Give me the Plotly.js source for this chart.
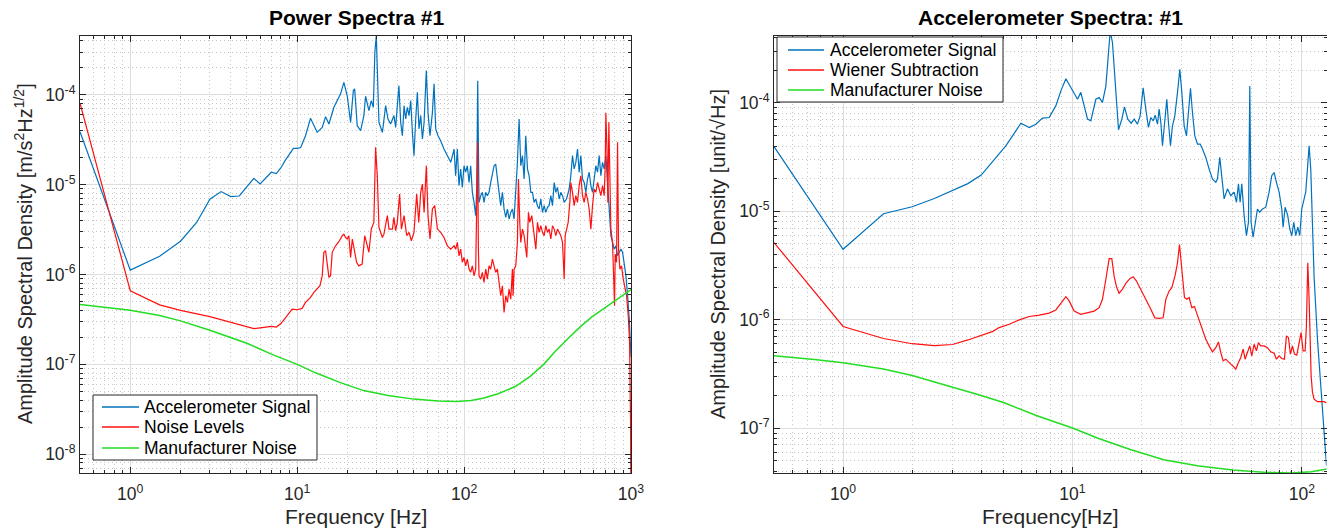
<!DOCTYPE html>
<html>
<head>
<meta charset="utf-8">
<script src="https://cdn.plot.ly/plotly-3.0.1.min.js"></script>
<style>
html,body{margin:0;padding:0;background:#fff;}
#chart{width:1327px;height:529px;}
</style>
</head>
<body>
<div id="chart"></div>
<script>
// ---------- Left panel: "Power Spectra #1" ----------
const psSignalFreq = [0.5,1,1.5,2,2.5,3,3.5,4,4.5,5,5.5,6,6.5,7,7.5,8,8.5,9,9.5,10,10.5,
  11.22,12.02,13.18,14.13,14.8,15.5,16.6,18.2,19.05,19.95,20.9,21.7,22.1,22.9,24.0,25.1,25.7,26.9,27.8,28.6,
  29.2,29.8,30.2,30.9,32.4,33.9,35.0,36.3,38.0,38.9,40.7,41.7,42.7,43.7,44.7,45.7,46.8,47.9,49.0,50.1,
  51.3,52.5,53.7,55.0,56.3,57.6,59.4,60.8,62.5,64.6,66.1,67.6,69.8,72.4,75.8,79.4,83.2,87.1,
  89.0,91.1,93.2,95.4,97.6,99.9,102.2,104.6,107.1,109.5,112.1,114.7,117.4,119.0,120.7,121.8,122.9,
  125.8,128.7,131.7,134.8,137.9,141.1,144.4,147.8,151.2,154.7,158.3,162.0,165.8,169.7,173.6,177.7,
  181.8,186.1,190.4,194.8,199.3,204.0,208.7,213.6,218.6,223.7,228.9,234.2,239.7,245.3,251.0,256.9,
  262.8,269.0,275.2,281.6,288.2,294.9,301.8,308.8,316.0,323.3,330.9,338.6,346.5,354.5,362.8,371.2,
  379.9,388.7,397.8,410.8,416.5,426.2,436.1,446.2,456.6,467.2,478.1,489.2,500.6,512.3,524.2,536.4,
  548.9,561.6,574.7,588.1,601.8,615.8,630.1,644.8,659.8,675.2,690.9,707.0,723.4,740.3,757.6,775.2,
  793.3,811.8,830.7,850.1,869.9,890.2,910.9,932.3,954.0,976.3,1000];
const psSignal = [3.9e-5,1.12e-6,1.6e-6,2.35e-6,3.8e-6,6.9e-6,8.4e-6,7.4e-6,7.5e-6,9.4e-6,1.18e-5,1.02e-5,1.2e-5,1.38e-5,1.33e-5,1.55e-5,1.88e-5,2.22e-5,2.54e-5,2.55e-5,2.6e-5,
  3.52e-5,5.5e-5,3.84e-5,4.36e-5,5.74e-5,4.75e-5,7.3e-5,1.03e-4,1.38e-4,9.8e-5,4.96e-5,1.12e-4,1.17e-4,4.55e-5,4.0e-5,5.9e-5,9.7e-5,6.7e-5,8.65e-5,7.3e-5,
  2.99e-4,4.6e-4,1.95e-4,4.96e-5,3.84e-5,7.6e-5,5.4e-5,4.75e-5,5.9e-5,4.36e-5,1.27e-4,4.96e-5,3.52e-5,7.6e-5,5.4e-5,7.3e-5,5.9e-5,8.65e-5,3.84e-5,2.11e-5,
  5.4e-5,1.07e-4,4.18e-5,5.9e-5,3.24e-5,4.96e-5,1.87e-4,6.4e-5,3.52e-5,6.4e-5,1.33e-4,4.18e-5,3.52e-5,3.1e-5,2.5e-5,2.11e-5,1.78e-5,2.5e-5,
  1.26e-5,2.5e-5,9.8e-6,1.5e-5,9.35e-6,1.63e-5,1.38e-5,1.63e-5,1.06e-5,1.63e-5,8.24e-6,6.37e-6,4.53e-6,8.97e-6,1.44e-4,2.97e-5,6.37e-6,
  7.56e-6,8.24e-6,6.37e-6,8.24e-6,7.56e-6,8.24e-6,1.06e-5,1.38e-5,1.63e-5,1.7e-5,1.26e-5,8.24e-6,5.85e-6,8.24e-6,5.37e-6,4.34e-6,
  5.37e-6,4.15e-6,4.93e-6,5.37e-6,4.15e-6,8.24e-6,1.78e-5,5.4e-5,1.63e-5,2.11e-5,1.16e-5,3.52e-5,1.5e-5,1.26e-5,8.24e-6,8.24e-6,
  6.37e-6,6.94e-6,5.85e-6,5.37e-6,6.94e-6,4.93e-6,5.85e-6,4.93e-6,5.6e-6,5.85e-6,7.56e-6,5.85e-6,1.06e-5,8.24e-6,9.35e-6,6.94e-6,
  8.24e-6,7.56e-6,6.37e-6,6.94e-6,7.56e-6,8.97e-6,1.26e-5,2.11e-5,1.5e-5,1.78e-5,2.5e-5,1.38e-5,2.11e-5,1.16e-5,1.06e-5,8.24e-6,
  1.16e-5,1.38e-5,9.8e-6,8.24e-6,1.16e-5,1.63e-5,1.38e-5,2.11e-5,1.26e-5,1.78e-5,1.5e-5,2.11e-5,1.06e-5,4.53e-6,2.71e-6,2.28e-6,
  1.92e-6,2.09e-6,1.62e-6,1.77e-6,1.92e-6,1.77e-6,1.37e-6,9.7e-7,5.81e-7,3.19e-7,1.2e-7];

const psNoiseFreq = [0.5,1,1.5,2,3,4,5,5.5,6,6.5,7,7.5,8,8.71,9.33,10.0,10.7,11.22,12.02,12.6,13.18,13.7,14.13,14.45,14.8,15.14,15.5,15.85,16.22,16.98,17.78,18.62,19.05,19.5,19.95,20.4,20.9,21.4,21.9,22.7,23.4,24.5,25.4,26.1,26.9,27.8,28.8,29.5,30.2,30.9,32.4,33.1,34.7,35.5,37.2,38.0,38.9,39.8,41.1,42.1,43.7,45.3,46.8,48.3,50.1,52.0,53.5,55.0,56.3,57.6,59.4,60.8,62.5,64.6,66.7,69.2,72.4,75.8,79.4,83.2,87.1,
  89.0,91.1,93.2,95.4,97.6,99.9,102.2,104.6,107.1,109.5,112.1,114.7,117.4,119.0,120.7,121.8,122.9,125.8,128.7,131.7,134.8,137.9,141.1,144.4,147.8,151.2,154.7,158.3,162.0,165.8,169.7,173.6,177.7,181.8,186.1,190.4,194.8,196.6,199.3,204.0,208.7,211.6,215.6,218.6,223.7,228.9,234.2,237.5,243.0,247.5,254.5,262.8,269.0,275.2,281.6,288.2,294.9,301.8,308.8,316.0,323.3,330.9,338.6,346.5,354.5,362.8,371.2,379.9,388.7,397.8,403.3,410.8,420.3,430.1,436.1,446.2,456.6,467.2,478.1,489.2,500.6,512.3,524.2,536.4,548.9,561.6,574.7,588.1,601.8,615.8,630.1,644.8,659.8,675.2,690.9,700.5,707.0,716.8,726.8,736.9,747.2,757.6,775.2,786.0,797.0,804.3,819.3,830.7,842.3,858.0,877.9,898.5,919.4,940.9,962.9,980.8,994.5,1000];
const psNoise = [8.1e-5,6.6e-7,4.6e-7,4.0e-7,3.4e-7,2.95e-7,2.6e-7,2.5e-7,2.55e-7,2.6e-7,2.65e-7,2.6e-7,2.85e-7,3.48e-7,4.13e-7,4.06e-7,4.2e-7,4.9e-7,5.57e-7,6.33e-7,6.9e-7,7.51e-7,9.7e-7,1.77e-6,1.84e-6,1.25e-6,9.3e-7,9.7e-7,1.77e-6,2.09e-6,2.32e-6,2.71e-6,2.82e-6,2.59e-6,2.49e-6,2.71e-6,1.55e-6,2.49e-6,2.01e-6,1.37e-6,1.25e-6,1.31e-6,2.71e-6,2.28e-6,1.77e-6,3.21e-6,3.81e-6,2.61e-5,1.26e-5,3.36e-6,2.59e-6,2.82e-6,4.53e-6,3.21e-6,3.21e-6,4.34e-6,3.08e-6,3.81e-6,7.89e-6,3.21e-6,4.53e-6,2.71e-6,2.95e-6,2.38e-6,2.95e-6,7.89e-6,3.81e-6,8.24e-6,1.02e-5,4.93e-6,1.63e-5,4.53e-6,2.49e-6,5.37e-6,5.85e-6,3.21e-6,2.95e-6,2.59e-6,2.09e-6,1.92e-6,2.09e-6,
  1.92e-6,2.28e-6,1.62e-6,1.92e-6,1.37e-6,1.55e-6,1.25e-6,1.49e-6,1.15e-6,1.06e-6,1.25e-6,9.7e-7,1.15e-6,4.53e-6,2.97e-5,1.92e-6,9.7e-7,8.9e-7,1.06e-6,8.18e-7,1.15e-6,8.9e-7,1.25e-6,1.15e-6,1.49e-6,1.25e-6,1.06e-6,1.15e-6,8.18e-7,5.81e-7,7.51e-7,3.79e-7,5.81e-7,4.9e-7,6.9e-7,5.33e-7,1.15e-6,5.81e-7,1.15e-6,1.25e-6,2.28e-6,1.16e-5,3.81e-6,2.28e-6,3.21e-6,2.71e-6,1.92e-6,1.55e-6,4.93e-6,3.81e-6,4.53e-6,2.95e-6,1.92e-6,3.81e-6,2.95e-6,3.5e-6,2.95e-6,2.71e-6,3.5e-6,2.95e-6,3.21e-6,2.49e-6,3.5e-6,3.21e-6,2.71e-6,3.21e-6,2.95e-6,2.71e-6,2.28e-6,8.9e-7,2.71e-6,3.21e-6,3.81e-6,6.37e-6,1.06e-5,8.24e-6,5.85e-6,7.56e-6,6.37e-6,9.8e-6,1.26e-5,7.56e-6,6.37e-6,8.24e-6,6.94e-6,5.37e-6,3.21e-6,5.85e-6,8.97e-6,8.24e-6,1.06e-5,8.97e-6,7.56e-6,9.8e-6,7.56e-6,1.63e-5,6.3e-5,2.72e-5,6.37e-6,4.96e-5,1.26e-5,3.21e-6,2.28e-6,9.7e-7,4.5e-7,1.69e-6,1.37e-6,2.97e-5,1.92e-6,1.15e-6,1.25e-6,8.9e-7,6.9e-7,5.81e-7,3.48e-7,1.75e-7,2e-8,1e-9];

// Manufacturer noise (same curve on both panels)
const mfrFreq  = [0.5,0.75,1,1.5,2,3,4,5,7,10,13,18,25,35,50,70,90,110,130,160,204,250,300,350,424,500,580,676,800,900,1000];
const mfrNoise = [4.65e-7,4.3e-7,4.0e-7,3.5e-7,3.05e-7,2.4e-7,2.0e-7,1.72e-7,1.3e-7,1.0e-7,8.0e-8,6.3e-8,5.1e-8,4.5e-8,4.1e-8,3.9e-8,3.86e-8,3.95e-8,4.2e-8,4.7e-8,5.7e-8,7.4e-8,1.0e-7,1.38e-7,1.98e-7,2.65e-7,3.35e-7,4.1e-7,5.1e-7,5.95e-7,6.8e-7];

// ---------- Right panel: "Accelerometer Spectra: #1" ----------
const asSignalFreq = [0.5,1,1.5,2,2.5,3,3.5,4,4.5,4.79,5.12,5.48,5.96,6.48,6.92,7.4,7.91,8.46,8.9,9.36,9.84,10.52,10.87,11.25,11.63,12.02,12.64,13.07,13.51,13.98,14.31,14.6,14.94,15.19,15.55,15.87,16.41,16.85,17.42,18.02,18.57,19.2,19.72,20.32,20.87,21.44,21.95,22.47,22.92,23.47,23.86,24.27,24.68,25.26,25.77,26.2,26.74,27.28,27.93,28.69,29.37,29.96,30.67,31.4,32.03,32.68,33.34,34.14,35.06,36.01,36.86,38.12,39.41,40.75,42.14,42.85,43.86,44.75,45.81,47.37,48.98,50.65,51.85,52.9,53.8,54.7,55.99,57.31,58.48,59.27,60.06,61.28,62.52,64,65.51,67.3,69.59,71.95,73.89,75.64,77.45,79.54,81.7,82.8,84.47,86.76,88.52,90.32,92.16,94.04,95.94,97.88,99.86,101.9,103.9,105.7,107.5,109.3,111.2,113,116.9,120.8,125,128];
const asSignal = [3.95e-5,4.46e-6,9.5e-6,1.1e-5,1.31e-5,1.56e-5,1.8e-5,2.16e-5,2.9e-5,3.37e-5,4.02e-5,4.96e-5,6.5e-5,5.93e-5,6.36e-5,7.23e-5,7.33e-5,9.38e-5,1.29e-4,1.67e-4,1.38e-4,1.08e-4,1.25e-4,9.06e-5,7.08e-5,6.83e-5,1.08e-4,1.12e-4,1.01e-4,1.43e-4,2.7e-4,4.6e-4,3.59e-4,2.04e-4,9.38e-5,5.65e-5,7.08e-5,9.19e-5,7.08e-5,6.5e-5,7.08e-5,6.36e-5,7.59e-5,1.38e-4,8.75e-5,5.93e-5,7.33e-5,6.83e-5,7.7e-5,6.36e-5,8.75e-5,6.59e-5,4.02e-5,7.59e-5,1.08e-4,6.59e-5,4.02e-5,6.14e-5,7.59e-5,1.25e-4,2.04e-4,1.25e-4,6.14e-5,4.96e-5,8.75e-5,1.36e-4,8.15e-5,4.96e-5,4.17e-5,4.17e-5,3.75e-5,3.14e-5,2.45e-5,1.99e-5,1.85e-5,1.99e-5,3.14e-5,1.99e-5,1.3e-5,1.61e-5,1.39e-5,1.5e-5,1.21e-5,1.79e-5,1.21e-5,1.79e-5,9.12e-6,5.97e-6,7.92e-6,1.43e-4,7.92e-6,5.77e-6,7.92e-6,1.05e-5,9.8e-6,1.05e-5,1.09e-5,1.5e-5,2.13e-5,2.28e-5,1.85e-5,1.5e-5,1.05e-5,7.13e-6,1.09e-5,9.12e-6,6.89e-6,5.97e-6,7.92e-6,5.97e-6,7.13e-6,5.97e-6,1.05e-5,1.3e-5,1.5e-5,2.45e-5,4.02e-5,2.45e-5,5.97e-6,2.5e-6,6.6e-7,2.45e-7,1.0e-7,4.5e-8];

const asWienerFreq = [0.5,1,1.5,2,2.5,3,3.5,4,4.5,4.79,5.3,5.86,6.48,7.16,7.91,8.46,8.9,9.36,9.67,10.17,10.87,11.63,12.43,13.07,13.51,13.98,14.45,14.84,15.19,15.55,15.97,16.52,17.08,17.78,18.39,19.01,19.86,20.87,21.95,22.85,23.86,24.84,25.51,26.38,27.1,28.02,28.69,29.27,29.96,30.77,31.5,32.25,33.13,34.02,34.94,35.89,36.86,38.12,39.41,40.75,42.14,43.28,44.31,45.36,46.58,47.85,48.98,50.31,51.5,52.9,54.16,55.43,56.55,57.89,59.27,60.47,61.9,63.36,64.64,66.17,68.43,70.76,73.15,75.64,77.45,79.54,81.7,83.91,85.6,87.34,89.12,90.93,92.79,94.98,97.23,99.2,101.2,103.3,104.6,106.1,107.5,108.6,109.7,111.2,113,116.9,125,128];
const asWiener = [5.15e-6,8.65e-7,6.7e-7,6.0e-7,5.75e-7,5.9e-7,6.5e-7,7.1e-7,7.8e-7,8.45e-7,9.08e-7,9.95e-7,1.07e-6,1.1e-6,1.15e-6,1.23e-6,1.42e-6,1.63e-6,1.49e-6,1.2e-6,1.12e-6,1.16e-6,1.2e-6,1.29e-6,1.54e-6,2.36e-6,3.65e-6,3.65e-6,2.52e-6,2.01e-6,1.75e-6,1.91e-6,2.16e-6,2.39e-6,2.49e-6,2.27e-6,1.91e-6,1.54e-6,1.25e-6,1.04e-6,1.03e-6,1.04e-6,1.54e-6,1.84e-6,1.97e-6,2.56e-6,3.35e-6,4.94e-6,3.12e-6,1.6e-6,1.54e-6,1.6e-6,1.29e-6,1.32e-6,1.12e-6,9.4e-7,7.87e-7,6.6e-7,5.73e-7,5.05e-7,5.52e-7,6.23e-7,4.98e-7,4.17e-7,4.32e-7,4.03e-7,3.89e-7,3.7e-7,3.5e-7,4.03e-7,4.48e-7,5.34e-7,4.32e-7,4.98e-7,5.73e-7,4.64e-7,5.93e-7,5.15e-7,6.15e-7,5.73e-7,5.73e-7,5.52e-7,5.05e-7,4.91e-7,4.32e-7,4.64e-7,4.38e-7,4.32e-7,7.09e-7,6.84e-7,4.81e-7,5.73e-7,4.81e-7,4.71e-7,5.93e-7,7.6e-7,5.15e-7,5.15e-7,8.75e-7,3.35e-6,1.54e-6,5.15e-7,3.03e-7,2.13e-7,1.85e-7,1.75e-7,1.75e-7,1.7e-7];

// ---------- Styling ----------
const FONT = 'Liberation Sans, Arial, Helvetica, sans-serif';
const C_BLUE = '#0072BD', C_RED = '#FF1010', C_GREEN = '#22DD22';
const AX = '#262626';
const W = 1327, H = 529;

function minorVals(lo, hi) {
  const v = [];
  for (let d = lo; d <= hi; d++) for (let k = 2; k <= 9; k++) v.push(k * Math.pow(10, d));
  return v;
}
function majorVals(lo, hi) {
  const v = []; for (let d = lo; d <= hi; d++) v.push(Math.pow(10, d)); return v;
}
function powText(vals) {
  return vals.map(v => '10<sup>' + Math.round(Math.log10(v)) + '</sup>');
}
function logAxis(domain, range, lo, hi, anchor, mlo, mhi, isX) {
  const tv = majorVals(lo, hi);
  const ax = {
    type: 'log', domain: domain, range: range, anchor: anchor,
    showline: true, linecolor: AX, linewidth: 1, mirror: 'allticks',
    ticks: 'inside', ticklen: 6, tickwidth: 1, tickcolor: AX,
    tickmode: 'array', tickvals: tv, ticktext: powText(tv),
    tickfont: {family: FONT, size: 17.5, color: AX},
    showgrid: true, gridcolor: '#dedede', gridwidth: 1, zeroline: false,
    minor: {tickmode: 'array', tickvals: minorVals(mlo, mhi), ticks: 'inside', ticklen: 3,
            tickcolor: AX, showgrid: true, gridcolor: '#c6c6c6', griddash: '1px,3px', gridwidth: 1},
    fixedrange: true
  };
  if (isX) ax.ticklabelstandoff = 5;
  return ax;
}

const yDom = [1 - 473 / H, 1 - 36 / H];
const xDomL = [80 / W, 631 / W];
const xDomR = [774 / W, 1326.5 / W];

const traces = [
  {x: psSignalFreq, y: psSignal, xaxis: 'x', yaxis: 'y', type: 'scatter', mode: 'lines',
   name: 'Accelerometer Signal', line: {color: C_BLUE, width: 1.2}},
  {x: psNoiseFreq, y: psNoise, xaxis: 'x', yaxis: 'y', type: 'scatter', mode: 'lines',
   name: 'Noise Levels', line: {color: C_RED, width: 1.2}},
  {x: mfrFreq, y: mfrNoise, xaxis: 'x', yaxis: 'y', type: 'scatter', mode: 'lines',
   name: 'Manufacturer Noise', line: {color: C_GREEN, width: 1.5}},
  {x: asSignalFreq, y: asSignal, xaxis: 'x2', yaxis: 'y2', type: 'scatter', mode: 'lines',
   name: 'Accelerometer Signal', line: {color: C_BLUE, width: 1.2}},
  {x: asWienerFreq, y: asWiener, xaxis: 'x2', yaxis: 'y2', type: 'scatter', mode: 'lines',
   name: 'Wiener Subtraction', line: {color: C_RED, width: 1.2}},
  {x: mfrFreq, y: mfrNoise, xaxis: 'x2', yaxis: 'y2', type: 'scatter', mode: 'lines',
   name: 'Manufacturer Noise', line: {color: C_GREEN, width: 1.5}}
];
const legendColors = traces.map(t => t.line.color);
const legendNames = traces.map(t => t.name);

// MATLAB-style compact legend boxes built from the traces' names and colours
const shapes = [], annotations = [];
function addLegend(idx, box, lineX0, lineX1, textX, rowY) {
  shapes.push({type: 'rect', xref: 'paper', yref: 'paper', layer: 'above',
    x0: box[0] / W, x1: box[2] / W, y0: 1 - box[1] / H, y1: 1 - box[3] / H,
    line: {color: AX, width: 1}, fillcolor: '#ffffff'});
  idx.forEach((k, i) => {
    shapes.push({type: 'line', xref: 'paper', yref: 'paper', layer: 'above',
      x0: lineX0 / W, x1: lineX1 / W, y0: 1 - rowY[i] / H, y1: 1 - rowY[i] / H,
      line: {color: legendColors[k], width: 1.5}});
    annotations.push({text: legendNames[k], xref: 'paper', yref: 'paper', x: textX / W, y: 1 - rowY[i] / H,
      xanchor: 'left', yanchor: 'middle', showarrow: false,
      font: {family: FONT, size: 17.5, color: '#000'}});
  });
}
addLegend([0, 1, 2], [93, 395, 317, 460], 102, 139, 142, [407, 427, 448]);
addLegend([3, 4, 5], [777, 37, 1003, 102], 788, 824, 828, [50, 70, 90]);

annotations.push(
  {text: 'Power Spectra #1', xref: 'paper', yref: 'paper', x: 356 / W, y: 1 - 18 / H,
   xanchor: 'center', yanchor: 'middle', showarrow: false,
   font: {family: FONT, size: 21, color: '#000', weight: 'bold'}},
  {text: 'Accelerometer Spectra: #1', xref: 'paper', yref: 'paper', x: 1050 / W, y: 1 - 18 / H,
   xanchor: 'center', yanchor: 'middle', showarrow: false,
   font: {family: FONT, size: 21, color: '#000', weight: 'bold'}},
  {text: 'Frequency [Hz]', xref: 'paper', yref: 'paper', x: 356 / W, y: 1 - 516 / H,
   xanchor: 'center', yanchor: 'middle', showarrow: false,
   font: {family: FONT, size: 21, color: AX}},
  {text: 'Frequency[Hz]', xref: 'paper', yref: 'paper', x: 1050 / W, y: 1 - 516 / H,
   xanchor: 'center', yanchor: 'middle', showarrow: false,
   font: {family: FONT, size: 21, color: AX}},
  {text: 'Amplitude Spectral Density [m/s<sup>2</sup>Hz<sup>1/2</sup>]', xref: 'paper', yref: 'paper',
   x: 24 / W, y: 1 - 254 / H, xanchor: 'center', yanchor: 'middle', textangle: -90, showarrow: false,
   font: {family: FONT, size: 20, color: AX}},
  {text: 'Amplitude Spectral Density [unit/\u221AHz]', xref: 'paper', yref: 'paper',
   x: 718 / W, y: 1 - 254 / H, xanchor: 'center', yanchor: 'middle', textangle: -90, showarrow: false,
   font: {family: FONT, size: 20, color: AX}}
);

const layout = {
  width: W, height: H, autosize: false,
  margin: {l: 0, r: 0, t: 0, b: 0, pad: 0},
  paper_bgcolor: '#ffffff', plot_bgcolor: '#ffffff',
  font: {family: FONT, color: AX},
  showlegend: false,
  xaxis: logAxis(xDomL, [Math.log10(0.5), 3], 0, 3, 'y', -1, 2, true),
  yaxis: logAxis(yDom, [-8.21, -3.343], -8, -4, 'x', -9, -4, false),
  xaxis2: logAxis(xDomR, [Math.log10(0.5), Math.log10(128)], 0, 2, 'y2', -1, 2, true),
  yaxis2: logAxis(yDom, [Math.log10(3.85e-8), -3.383], -7, -4, 'x2', -8, -4, false),
  shapes: shapes,
  annotations: annotations
};

Plotly.newPlot('chart', traces, layout, {staticPlot: true, displayModeBar: false});
</script>
</body>
</html>
